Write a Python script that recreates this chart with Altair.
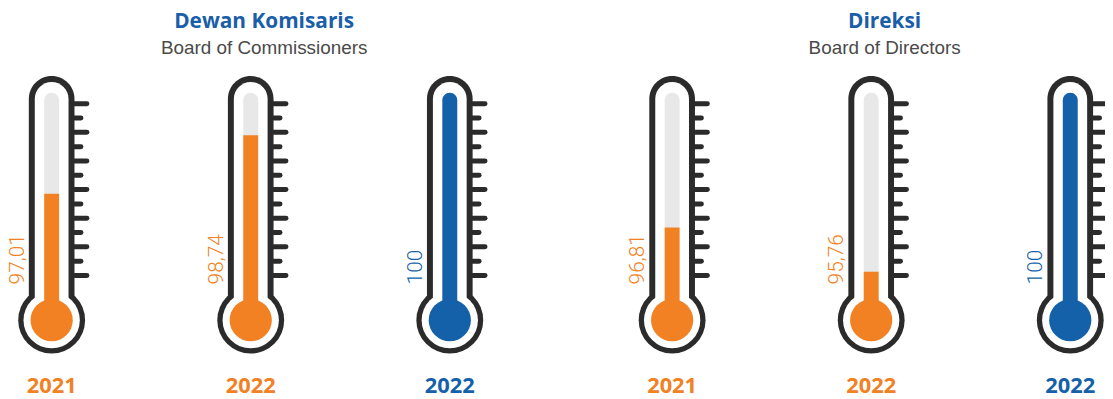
import math
import altair as alt
import pandas as pd

# ---------------- data ----------------
groups = ["Dewan Komisaris", "Dewan Komisaris", "Dewan Komisaris", "Direksi", "Direksi", "Direksi"]
slots = ["1", "2", "3", "1", "2", "3"]
years = ["2021", "2022", "2022", "2021", "2022", "2022"]
values = [97.01, 98.74, 100, 96.81, 95.76, 100]
kinds = ["Capaian", "Capaian", "Target", "Capaian", "Capaian", "Target"]

group_names = ["Dewan Komisaris", "Direksi"]
group_subtitles = ["Board of Commissioners", "Board of Directors"]
tick_index = list(range(13))

# ---------------- styles ----------------
ORANGE = "#F28123"
BLUE = "#1561A9"
TITLE_BLUE = "#1A5EAA"
DARK = "#2B2B2B"
GREY = "#E8E8E8"
SUB = "#4A4A4A"

df = pd.DataFrame(dict(group=groups, slot=slots, year=years, value=values, kind=kinds))
df["label"] = [str(int(v)) if float(v).is_integer() else f"{v:.2f}".replace(".", ",") for v in values]

titles_df = pd.DataFrame(dict(group=group_names, subtitle=group_subtitles))
ticks_df = pd.DataFrame(
    [dict(group=g, slot=s, t=t, len=("long" if t % 2 == 0 else "short"))
     for g, s in zip(groups, slots) for t in tick_index]
)

X = alt.X("group:N", scale=alt.Scale(domain=group_names, paddingInner=0.232, paddingOuter=0, align=0), axis=None)
XO = alt.XOffset("slot:N", scale=alt.Scale(domain=["1", "2", "3"], paddingInner=0.651, paddingOuter=0.0224, align=1))
COLOR = alt.Color("kind:N", scale=alt.Scale(domain=["Capaian", "Target"], range=[ORANGE, BLUE]), legend=None)

BULB_Y = 313

base = alt.Chart(df).encode(x=X, xOffset=XO)

outer_tube = base.mark_bar(width=46, color=DARK, cornerRadiusTopLeft=23, cornerRadiusTopRight=23).encode(
    y=alt.value(67), y2=alt.value(BULB_Y))
outer_bulb = base.mark_circle(size=math.pi * 38 ** 2, color=DARK, opacity=1).encode(y=alt.value(BULB_Y))
inner_tube = base.mark_bar(width=34, color="white", cornerRadiusTopLeft=17, cornerRadiusTopRight=17).encode(
    y=alt.value(73), y2=alt.value(BULB_Y))
inner_bulb = base.mark_circle(size=math.pi * 32 ** 2, color="white", opacity=1).encode(y=alt.value(BULB_Y))
grey_tube = base.mark_bar(width=15, color=GREY, cornerRadiusTopLeft=7.5, cornerRadiusTopRight=7.5).encode(
    y=alt.value(84), y2=alt.value(BULB_Y))

fill_layers = []
for g, dom in [("Dewan Komisaris", [90, 100]), ("Direksi", [92, 100])]:
    yenc = alt.Y("value:Q", stack=None,
                 scale=alt.Scale(domain=dom, range=[424, 84], zero=False, nice=False), axis=None)
    part = base.transform_filter((alt.datum.group == g) & (alt.datum.value < dom[1])).mark_bar(width=15).encode(
        y=yenc, y2=alt.value(BULB_Y), color=COLOR)
    full = base.transform_filter((alt.datum.group == g) & (alt.datum.value >= dom[1])).mark_bar(
        width=15, cornerRadiusTopLeft=7.5, cornerRadiusTopRight=7.5).encode(
        y=yenc, y2=alt.value(BULB_Y), color=COLOR)
    fill_layers += [part, full]

bulb_fill = base.mark_circle(size=math.pi * 24 ** 2, opacity=1).encode(y=alt.value(BULB_Y), color=COLOR)

ticks = alt.Chart(ticks_df).mark_point(size=4, filled=False, strokeWidth=5, strokeCap="round",
                                       color=DARK, opacity=1).encode(
    x=X, xOffset=XO,
    y=alt.Y("t:Q", scale=alt.Scale(domain=[0, 12], range=[95, 268]), axis=None),
    shape=alt.Shape("len:N", scale=alt.Scale(domain=["long", "short"],
                                             range=["M23,0H35.5", "M23,0H29.5"]), legend=None),
)

labels = base.mark_text(angle=270, align="left", baseline="middle", dy=-34, font="Roboto",
                        fontSize=21, fontWeight=300).encode(
    y=alt.value(277), text="label:N", color=COLOR)

year_text = base.mark_text(align="center", baseline="alphabetic", font="Open Sans", fontWeight="bold",
                           fontSize=22).encode(y=alt.value(386), text="year:N", color=COLOR)

titles = alt.Chart(titles_df).mark_text(align="center", baseline="alphabetic", dx=18, font="Open Sans",
                                        fontWeight="bold", fontSize=21, color=TITLE_BLUE).encode(
    x=X, y=alt.value(19), text="group:N")
subtitles = alt.Chart(titles_df).mark_text(align="center", baseline="alphabetic", dx=18,
                                           font="Liberation Sans", fontSize=19, color=SUB).encode(
    x=X, y=alt.value(45), text="subtitle:N")

chart = alt.layer(
    outer_tube, outer_bulb, inner_tube, inner_bulb, grey_tube, *fill_layers, bulb_fill,
    ticks, labels, year_text, titles, subtitles
).resolve_scale(y="independent").properties(
    width=1105, height=391, autosize=alt.AutoSizeParams(type="none"), padding=0
).configure_view(stroke=None)

chart.save("out.html", embed_options={"renderer": "svg", "actions": False})
